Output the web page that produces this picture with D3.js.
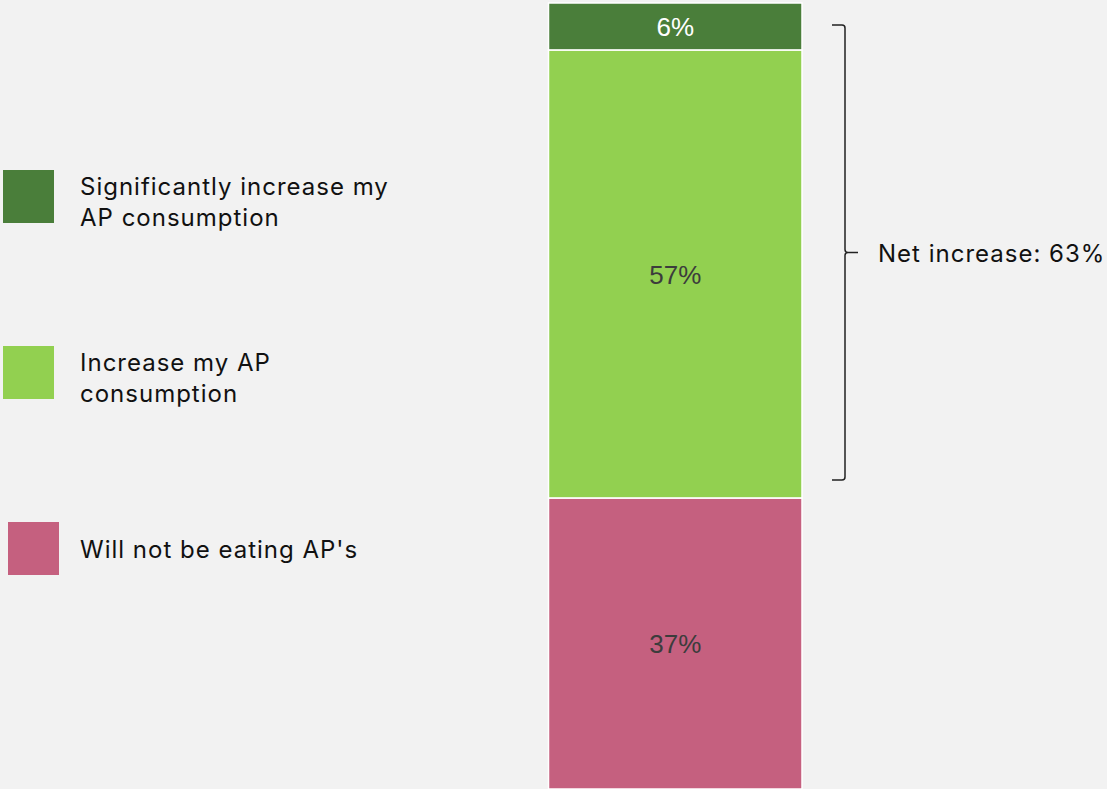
<!DOCTYPE html>
<html>
<head>
<meta charset="utf-8">
<script src="https://cdn.jsdelivr.net/npm/d3@7"></script>
<style>
  html, body { margin: 0; padding: 0; background: #f2f2f2; }
  svg { display: block; }
</style>
</head>
<body>
<script>
// Stacked shares, top to bottom
const categories = ["Significantly increase my AP consumption", "Increase my AP consumption", "Will not be eating AP's"];
const values = [6, 57, 37];
const colors = ["#4a7e3a", "#92d050", "#c5607f"];
const labelColors = ["#ffffff", "#3c3c3c", "#3c3c3c"];
const legendLines = [["Significantly increase my", "AP consumption"], ["Increase my AP", "consumption"], ["Will not be eating AP's"]];
const netLabel = "Net increase: 63%";

const W = 1107, H = 789;
const svg = d3.select("body").append("svg").attr("width", W).attr("height", H);
svg.append("rect").attr("width", W).attr("height", H).attr("fill", "#f2f2f2");

const y = d3.scaleLinear().domain([0, 100]).range([3, 789]);
const x = d3.scaleBand().domain(["all"]).range([548.5, 802]).padding(0);

let acc = 0;
const stack = values.map((v, i) => { const s = { i, v, y0: acc, y1: acc + v }; acc += v; return s; });

const bars = svg.append("g");
bars.selectAll("rect").data(stack).join("rect")
  .attr("x", x("all"))
  .attr("width", x.bandwidth())
  .attr("y", d => y(d.y0))
  .attr("height", d => y(d.y1) - y(d.y0))
  .attr("fill", d => colors[d.i])
  .attr("stroke", "#ffffff")
  .attr("stroke-width", 1.5);

bars.selectAll("text").data(stack).join("text")
  .attr("x", x("all") + x.bandwidth() / 2)
  .attr("y", d => (y(d.y0) + y(d.y1)) / 2)
  .attr("dy", "0.36em")
  .attr("text-anchor", "middle")
  .attr("font-family", "Liberation Sans, Arial, sans-serif")
  .attr("font-size", 26)
  .attr("fill", d => labelColors[d.i])
  .text(d => d.v + "%");

// Legend
const legendY = [170, 346, 522];
const legendX = [3, 3, 8];
const legend = svg.append("g");
categories.forEach((c, i) => {
  legend.append("rect")
    .attr("x", legendX[i]).attr("y", legendY[i])
    .attr("width", 51).attr("height", 53)
    .attr("fill", colors[i]);
  const t = legend.append("text")
    .attr("font-family", "Inter, 'Noto Sans', sans-serif")
    .attr("font-size", 24)
    .attr("letter-spacing", 1)
    .attr("fill", "#111111");
  const lines = legendLines[i];
  const base = lines.length === 2 ? legendY[i] + 25 : legendY[i] + 36;
  lines.forEach((ln, k) => {
    t.append("tspan").attr("x", 80).attr("y", base + k * 31).text(ln);
  });
});

// Curly bracket grouping the two "increase" segments
const bx = 845, bTop = 25, bBot = 480, bMid = (bTop + bBot) / 2;
svg.append("path")
  .attr("d", `M832,${bTop} L${bx - 3},${bTop} Q${bx},${bTop} ${bx},${bTop + 3} L${bx},${bMid - 3} Q${bx},${bMid} ${bx + 3},${bMid} L858,${bMid} M${bx + 3},${bMid} Q${bx},${bMid} ${bx},${bMid + 3} L${bx},${bBot - 3} Q${bx},${bBot} ${bx - 3},${bBot} L832,${bBot}`)
  .attr("fill", "none")
  .attr("stroke", "#222222")
  .attr("stroke-width", 1.5);

svg.append("text")
  .attr("x", 878).attr("y", bMid + 9)
  .attr("font-family", "Inter, 'Noto Sans', sans-serif")
  .attr("font-size", 24)
  .attr("letter-spacing", 1)
  .attr("fill", "#111111")
  .text(netLabel);
</script>
</body>
</html>
